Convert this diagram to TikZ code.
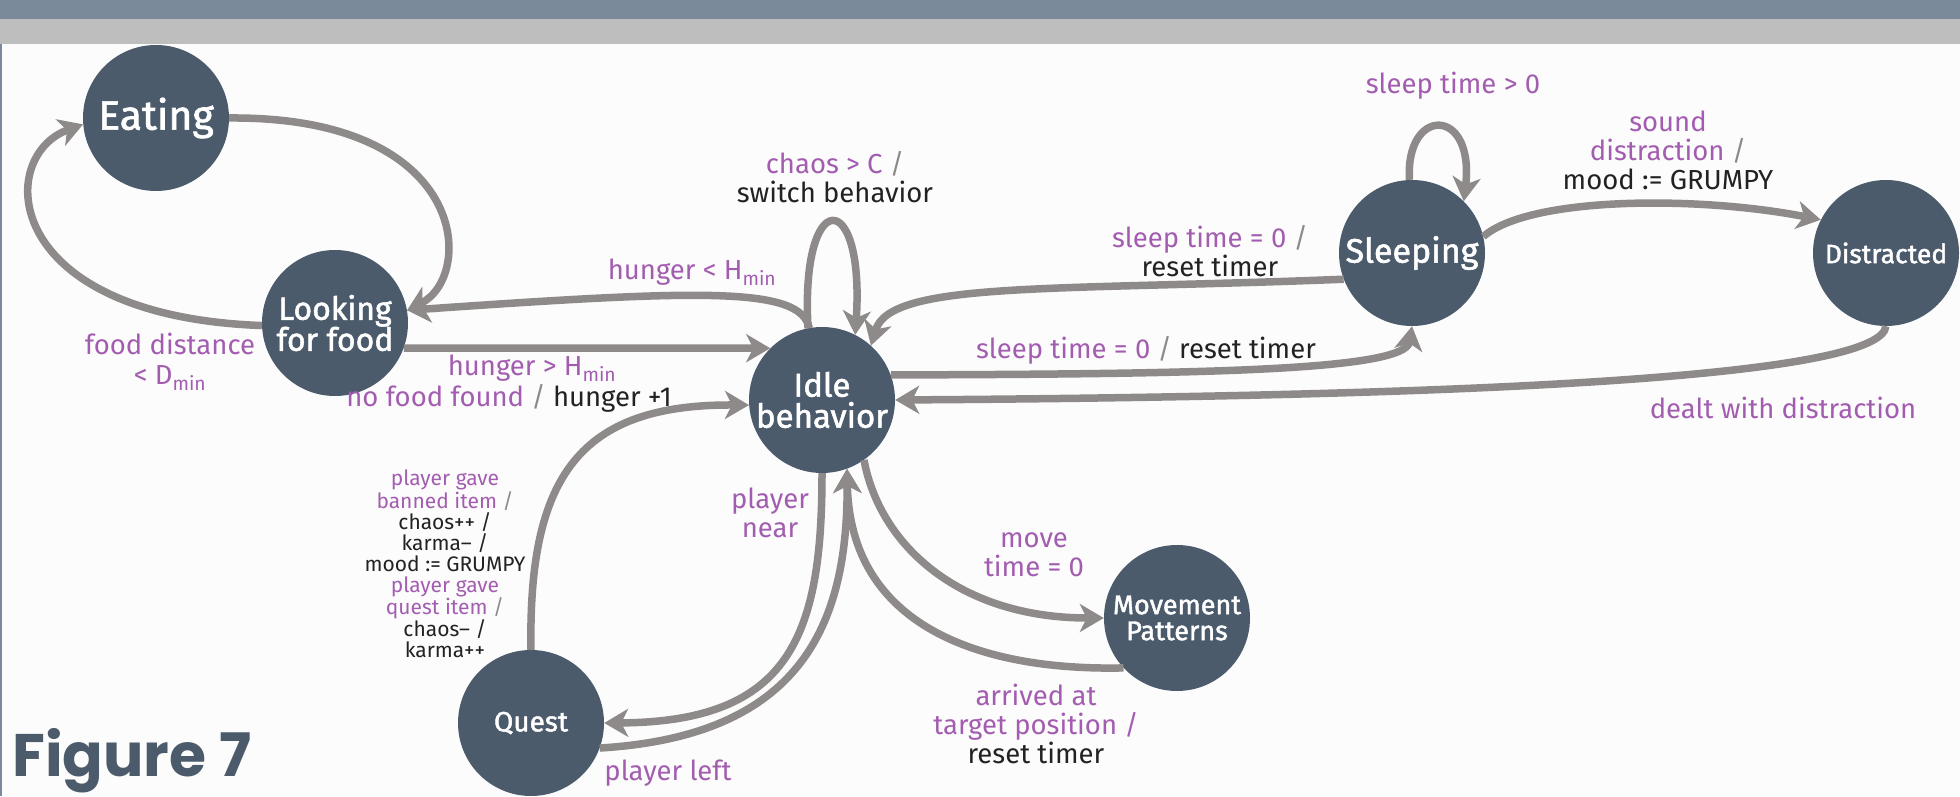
\documentclass[tikz,border=0pt]{standalone}
\usepackage{fontspec}
\setmainfont{Fira Sans}
\newfontfamily\statefont[FakeBold=1.6]{Fira Sans}
\newfontfamily\figfont{Poppins}
\usetikzlibrary{arrows.meta}
\definecolor{statefill}{HTML}{4B5B6C}
\definecolor{edgegray}{HTML}{8E8A8A}
\definecolor{guardcol}{HTML}{A35DB0}
\definecolor{actcol}{HTML}{222222}
\definecolor{banddark}{HTML}{7A8A9B}
\definecolor{bandlight}{HTML}{BEBEBF}
\definecolor{pagebg}{HTML}{FCFCFC}
\newcommand{\gsep}{\textcolor{edgegray}{/}}
\newcommand{\act}[1]{\textcolor{actcol}{#1}}

\begin{document}
\begin{tikzpicture}[x=1pt, y=1pt,
  state/.style={circle, fill=statefill, text=white, minimum size=146pt, inner sep=0pt, align=center},
  trans/.style={draw=edgegray, line width=7.5pt, -{Stealth[length=24pt, width=28pt, inset=7pt]}},
  lbl/.style={text=guardcol, align=center, inner sep=0pt, font=\fontsize{27.5}{29}\selectfont},
  small/.style={lbl, font=\fontsize{21}{21}\selectfont}
]
% page and header bands
\fill[pagebg] (0,0) rectangle (1960,796);
\useasboundingbox (0,0) rectangle (1960,796);
\fill[banddark] (0,777) rectangle (1960,796);
\fill[bandlight] (0,752) rectangle (1960,777);
\fill[banddark] (0,0) rectangle (1.5,752);

\node[anchor=base west, inner sep=0pt, text=statefill, font=\figfont\bfseries\fontsize{60}{60}\selectfont] (fig) at (12,20) {Figure 7};

% states
\node[state, font=\statefont\fontsize{41}{44}\selectfont] (eat) at (156,678) {Eating};
\node[state, font=\statefont\fontsize{32}{31}\selectfont] (look) at (335,473) {Looking\\for food};
\node[state, font=\statefont\fontsize{33}{31}\selectfont] (idle) at (822,396) {Idle\\behavior};
\node[state, font=\statefont\fontsize{34}{36}\selectfont] (sleep) at (1412,543) {Sleeping};
\node[state, font=\statefont\fontsize{26.5}{30}\selectfont] (distr) at (1886,543) {Distracted};
\node[state, font=\statefont\fontsize{27}{26}\selectfont] (move) at (1177,178) {Movement\\Patterns};
\node[state, font=\statefont\fontsize{28}{30}\selectfont] (quest) at (531,73) {Quest};

% transitions
\draw[trans] (eat.east) .. controls (470,680) and (475,520) .. (look.10);
\draw[trans] (look.182) .. controls (0,480) and (-5,640) .. (eat.185);
\draw[trans] (idle.100) .. controls (800,510) and (700,506) .. (look.10);
\draw[trans] (look.-20) -- (idle.135);
\draw[trans] (idle.101) .. controls (800,610) and (865,610) .. (idle.63);
\draw[trans] (sleep.201) .. controls (1050,505) and (890,515) .. (idle.48);
\draw[trans] (idle.20) .. controls (1200,422) and (1405,425) .. (sleep.-90);
\draw[trans] (sleep.92) .. controls (1405,690) and (1475,690) .. (sleep.45);
\draw[trans] (sleep.13) .. controls (1530,600) and (1700,600) .. (distr.153);
\draw[trans] (distr.-90) .. controls (1880,420) and (1500,400) .. (idle.0);
\draw[trans] (quest.90) .. controls (528,320) and (580,392) .. (idle.184);
\draw[trans] (idle.-90) .. controls (822,160) and (790,74) .. (quest.0);
\draw[trans] (quest.-20) .. controls (800,60) and (848,170) .. (idle.-70);
\draw[trans] (idle.-55) .. controls (880,250) and (960,178) .. (move.180);
\draw[trans] (move.223) .. controls (980,125) and (850,170) .. (idle.-70);

% guards and actions
\node[lbl] (l-food) at (170,434) {food distance\\< D\textsubscript{min}};
\node[lbl] (l-hlow) at (692,524) {hunger < H\textsubscript{min}};
\node[lbl] (l-hhigh) at (532,428) {hunger > H\textsubscript{min}};
\node[lbl] (l-nofood) at (509,398) {no food found \gsep{} \act{hunger +1}};
\node[lbl] (l-chaos) at (835,619) {chaos > C \gsep\\\act{switch behavior}};
\node[lbl] (l-wake) at (1210,545) {sleep time = 0 \gsep\\\act{reset timer}};
\node[lbl] (l-nap) at (1146,446) {sleep time = 0 \gsep{} \act{reset timer}};
\node[lbl] (l-doze) at (1453,710) {sleep time > 0};
\node[lbl] (l-sound) at (1668,646) {sound\\distraction \gsep\\\act{mood := GRUMPY}};
\node[lbl] (l-dealt) at (1783,388) {dealt with distraction};
\node[small] (l-items) at (445,232) {player gave\\banned item \gsep\\\act{chaos++ /}\\\act{karma-- /}\\\act{mood := GRUMPY}\\player gave\\quest item \gsep\\\act{chaos-- /}\\\act{karma++}};
\node[lbl] (l-near) at (770,283) {player\\near};
\node[lbl] (l-left) at (668,23) {player left};
\node[lbl] (l-movet) at (1034,241) {move\\time = 0};
\node[lbl] (l-arrive) at (1036,72) {arrived at\\target position /\\\act{reset timer}};
\end{tikzpicture}
\end{document}
